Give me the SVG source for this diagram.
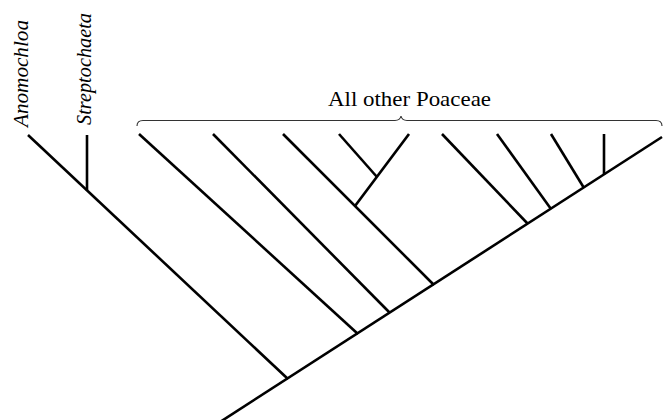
<svg xmlns="http://www.w3.org/2000/svg" width="663" height="420" viewBox="0 0 663 420">
  <style>
    .edge { fill: none; stroke: #000; stroke-width: 2.6; stroke-linecap: butt; }
    .brace { fill: none; stroke: #333; stroke-width: 1.1; }
    .taxon { font-family: "Liberation Serif", "Times New Roman", serif; font-style: italic; font-size: 21px; fill: #000; }
    .group { font-family: "Liberation Serif", "Times New Roman", serif; font-size: 22px; fill: #000; }
  </style>
  <rect width="663" height="420" fill="#fff"/>

  <!-- tree edges -->
  <g id="connectors">
    <line class="edge" x1="220" y1="422" x2="662" y2="137"/>
    <line class="edge" x1="28" y1="135" x2="288" y2="379"/>
    <line class="edge" x1="87" y1="135" x2="87" y2="190.5"/>
    <line class="edge" x1="139" y1="134" x2="358" y2="334"/>
    <line class="edge" x1="213" y1="134" x2="390" y2="313"/>
    <line class="edge" x1="283" y1="134" x2="434" y2="285"/>
    <line class="edge" x1="409" y1="134" x2="355" y2="206"/>
    <line class="edge" x1="339" y1="134" x2="377" y2="177"/>
    <line class="edge" x1="442" y1="134" x2="528" y2="224"/>
    <line class="edge" x1="497" y1="134" x2="551" y2="209"/>
    <line class="edge" x1="551" y1="134" x2="584" y2="188"/>
    <line class="edge" x1="604" y1="134" x2="604" y2="175"/>
  </g>

  <!-- tip labels -->
  <g id="anomochloa">
    <text class="taxon" transform="translate(28,127) rotate(-90)" textLength="107" lengthAdjust="spacingAndGlyphs">Anomochloa</text>
  </g>
  <g id="streptochaeta">
    <text class="taxon" transform="translate(91,125) rotate(-90)" textLength="112" lengthAdjust="spacingAndGlyphs">Streptochaeta</text>
  </g>

  <!-- bracket over the remaining grasses -->
  <g id="other-poaceae">
    <path class="brace" d="M137,126 Q137,120.5 143,120.5 L395,120.5 Q400,120.5 401,116 Q402,120.5 407,120.5 L656,120.5 Q662,120.5 662,126"/>
    <text class="group" x="328" y="106" textLength="163" lengthAdjust="spacingAndGlyphs">All other Poaceae</text>
  </g>
</svg>
